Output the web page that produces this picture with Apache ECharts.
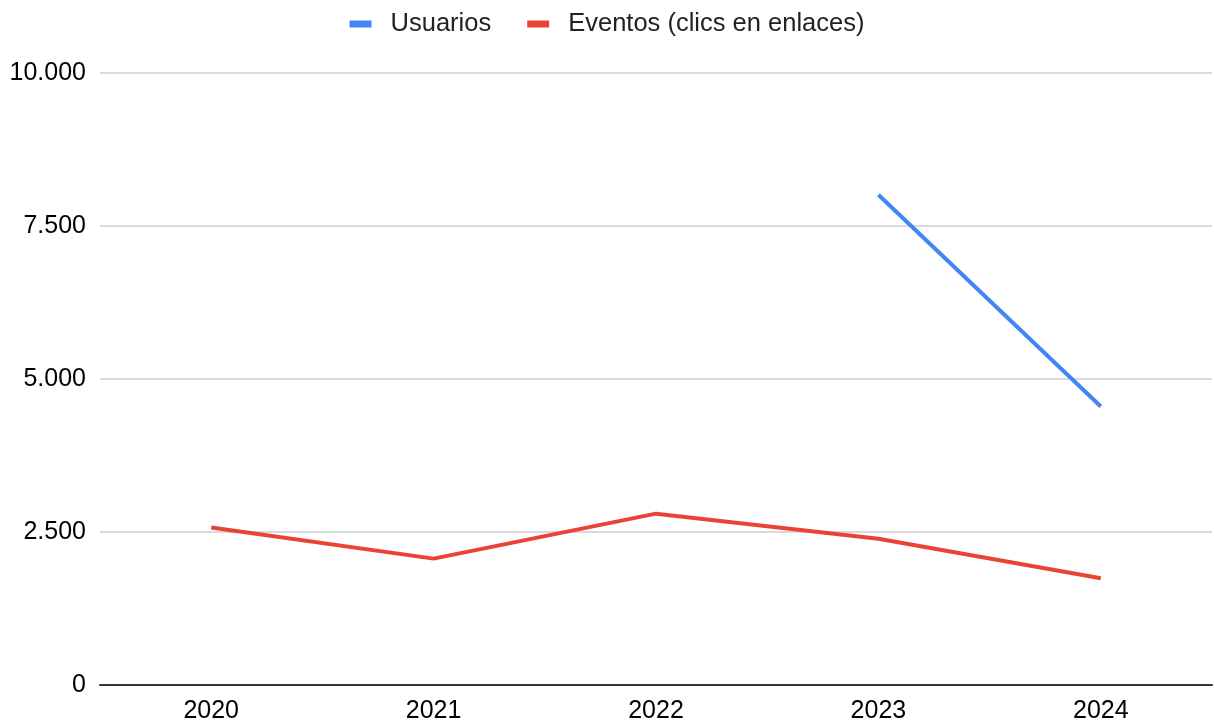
<!DOCTYPE html>
<html>
<head>
<meta charset="utf-8">
<script src="https://cdn.jsdelivr.net/npm/echarts@6/dist/echarts.min.js"></script>
<style>
html,body{margin:0;padding:0;background:#fff;}
#chart{width:1214px;height:724px;}
</style>
</head>
<body>
<div id="chart"></div>
<script>
const categories = ['2020', '2021', '2022', '2023', '2024'];
const usuarios = [null, null, null, 8010, 4550];
const eventos = [2575, 2065, 2800, 2390, 1745];
const seriesNames = ['Usuarios', 'Eventos (clics en enlaces)'];
const seriesColors = ['#4285F4', '#EA4335'];

function fmt(v) {
  return String(v).replace(/\B(?=(\d{3})+(?!\d))/g, '.');
}

const chart = echarts.init(document.getElementById('chart'), null, {renderer: 'canvas'});
chart.setOption({
  animation: false,
  textStyle: {fontFamily: 'Liberation Sans, Arial, sans-serif'},
  legend: {
    top: 6,
    left: 'center',
    itemWidth: 22,
    itemHeight: 7,
    itemGap: 36,
    icon: 'rect',
    textStyle: {fontSize: 25.5, color: '#222', padding: [0, 0, 0, 14]},
    data: seriesNames
  },
  grid: {left: 100, right: 2, top: 73, bottom: 38, containLabel: false},
  xAxis: {
    type: 'category',
    data: categories,
    boundaryGap: true,
    axisLine: {lineStyle: {color: '#333', width: 2}},
    axisTick: {show: false},
    axisLabel: {fontSize: 25, color: '#000', margin: 14}
  },
  yAxis: {
    type: 'value',
    min: 0,
    max: 10000,
    interval: 2500,
    axisLine: {show: false},
    axisTick: {show: false},
    splitLine: {lineStyle: {color: '#cccccc', width: 1.5}},
    axisLabel: {fontSize: 25, color: '#000', margin: 14, formatter: fmt}
  },
  series: [
    {
      name: seriesNames[0],
      type: 'line',
      data: usuarios,
      color: seriesColors[0],
      showSymbol: false,
      lineStyle: {width: 4}
    },
    {
      name: seriesNames[1],
      type: 'line',
      data: eventos,
      color: seriesColors[1],
      showSymbol: false,
      lineStyle: {width: 4}
    }
  ]
});
</script>
</body>
</html>
